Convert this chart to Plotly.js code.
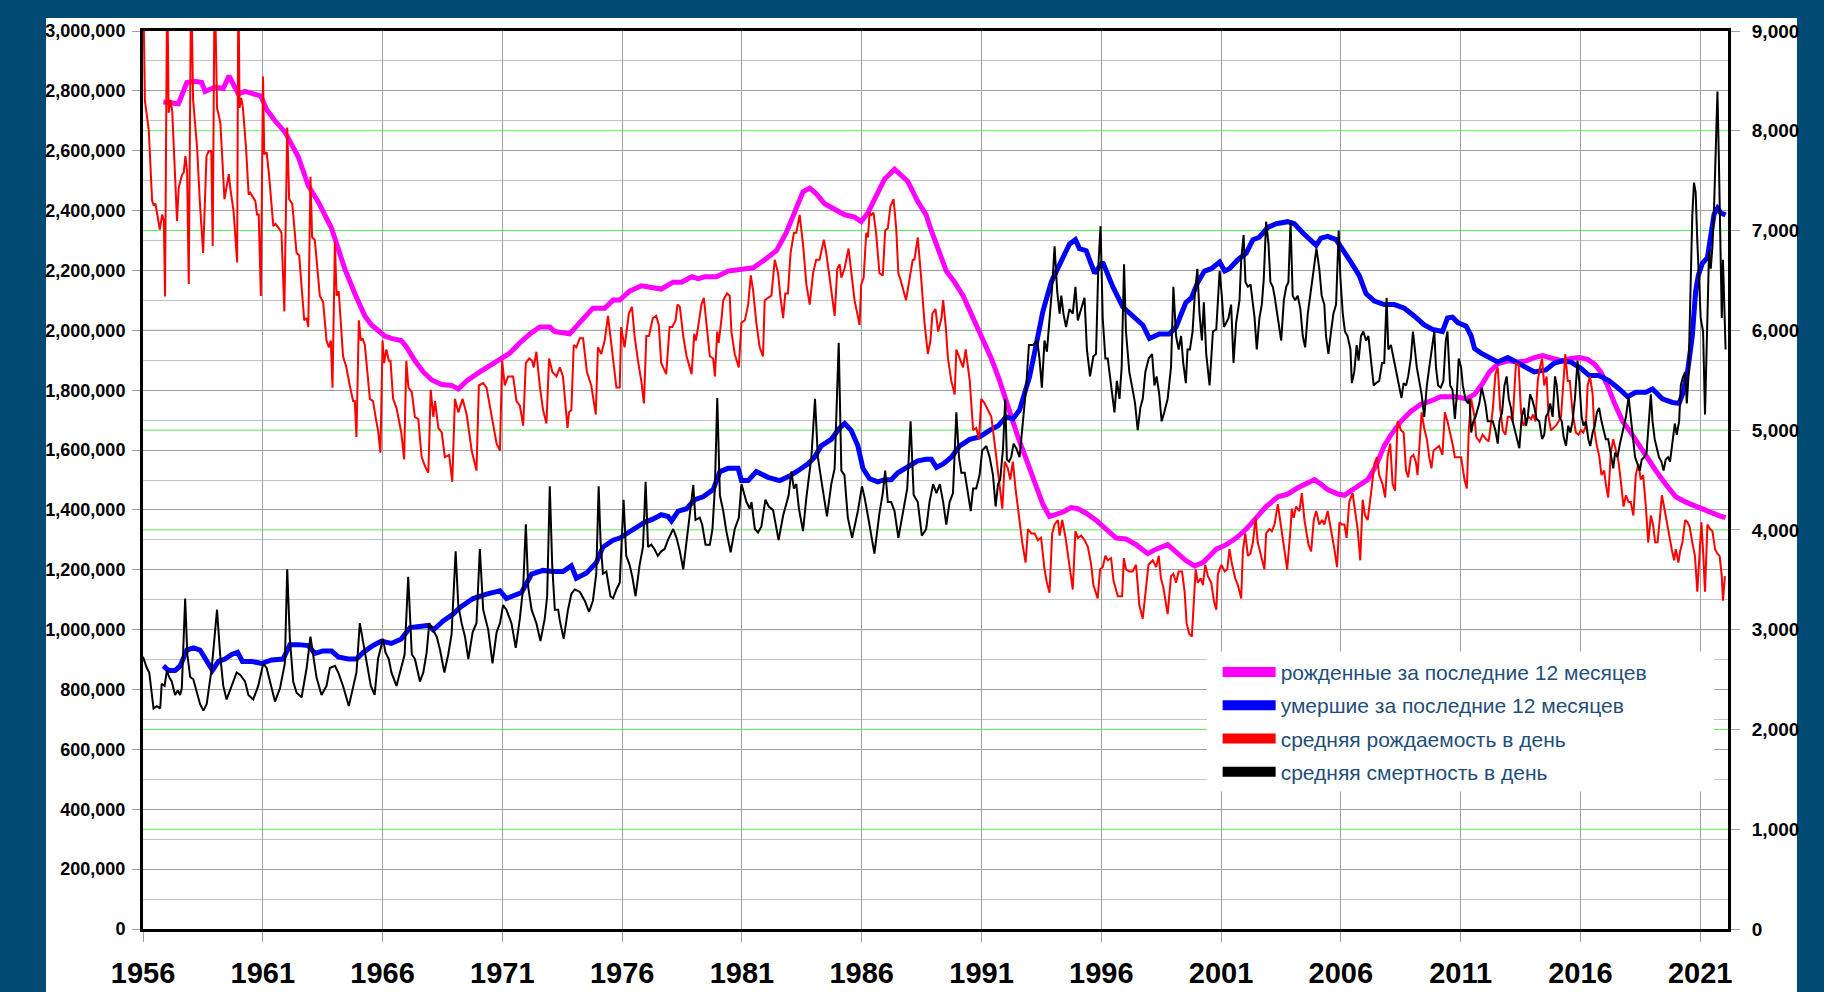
<!DOCTYPE html>
<html>
<head>
<meta charset="utf-8">
<script src="https://cdn.plot.ly/plotly-3.0.1.min.js"></script>
<style>
html,body{margin:0;padding:0;background:#004a73;}
#chart{width:1824px;height:992px;}
</style>
</head>
<body>
<div id="chart"></div>
<script>
// ---------- DATA ----------
const seriesNames = [
  "рожденные за последние 12 месяцев",
  "умершие за последние 12 месяцев",
  "средняя рождаемость в день",
  "средняя смертность в день"
];
const xTickYears = [1956,1961,1966,1971,1976,1981,1986,1991,1996,2001,2006,2011,2016,2021];
const rightGridValues = [1000,2000,3000,4000,5000,6000,7000,8000];

// births over last 12 months (left axis)
const births12mX = [1956.85,1957.48,1957.83,1958.17,1958.45,1958.59,1959.01,1959.35,1959.59,1959.98,1960.26,1960.67,1960.92,1961.16,1961.51,1961.92,1962.48,1962.90,1963.31,1963.87,1964.42,1964.84,1965.26,1965.54,1966.09,1966.37,1966.78,1967.01,1967.35,1967.70,1968.05,1968.47,1968.88,1969.16,1969.51,1970.06,1970.48,1970.96,1971.31,1971.73,1972.15,1972.56,1972.98,1973.19,1973.81,1974.23,1974.78,1975.27,1975.62,1975.90,1976.31,1976.80,1977.28,1977.63,1978.13,1978.48,1978.90,1979.17,1979.45,1979.94,1980.42,1980.98,1981.47,1981.95,1982.44,1982.85,1983.27,1983.55,1983.83,1984.10,1984.45,1984.87,1985.29,1985.70,1985.98,1986.26,1986.60,1986.95,1987.37,1987.92,1988.34,1988.69,1988.84,1989.19,1989.53,1989.88,1990.23,1990.65,1991.06,1991.41,1991.76,1992.17,1992.52,1992.87,1993.22,1993.56,1993.84,1994.12,1994.40,1994.74,1995.02,1995.37,1995.78,1996.20,1996.62,1997.03,1997.45,1997.94,1998.29,1998.77,1999.12,1999.53,1999.90,2000.24,2000.52,2000.80,2001.22,2001.63,2002.05,2002.46,2002.88,2003.37,2003.78,2004.20,2004.55,2004.90,2005.17,2005.45,2005.87,2006.15,2006.42,2006.70,2007.12,2007.46,2007.81,2008.09,2008.51,2008.92,2009.34,2009.76,2010.17,2010.45,2010.81,2011.23,2011.58,2011.92,2012.20,2012.55,2012.97,2013.38,2013.73,2014.08,2014.42,2014.84,2015.26,2015.60,2015.95,2016.30,2016.58,2016.85,2017.13,2017.41,2017.76,2018.10,2018.45,2018.80,2019.15,2019.56,2019.98,2020.40,2020.74,2021.09,2021.44,2021.78,2022.06];
const births12mY = [2763000,2757000,2828000,2832000,2828000,2798000,2813000,2808000,2850000,2790000,2798000,2787000,2783000,2738000,2700000,2663000,2580000,2483000,2430000,2341000,2206000,2123000,2048000,2018000,1981000,1973000,1966000,1943000,1898000,1861000,1834000,1819000,1816000,1804000,1831000,1861000,1883000,1909000,1924000,1958000,1988000,2011000,2011000,1996000,1988000,2026000,2074000,2074000,2101000,2101000,2131000,2149000,2143000,2138000,2161000,2161000,2179000,2173000,2179000,2179000,2198000,2206000,2209000,2236000,2266000,2326000,2415000,2463000,2475000,2457000,2423000,2403000,2386000,2378000,2363000,2393000,2445000,2505000,2538000,2498000,2430000,2386000,2348000,2273000,2198000,2161000,2116000,2041000,1973000,1906000,1831000,1726000,1644000,1569000,1494000,1419000,1378000,1384000,1393000,1408000,1404000,1389000,1366000,1336000,1306000,1303000,1284000,1254000,1269000,1284000,1261000,1231000,1213000,1224000,1246000,1269000,1284000,1306000,1336000,1374000,1411000,1444000,1453000,1474000,1489000,1501000,1486000,1468000,1453000,1449000,1464000,1479000,1501000,1546000,1614000,1651000,1696000,1729000,1753000,1764000,1778000,1778000,1778000,1771000,1786000,1823000,1861000,1888000,1898000,1894000,1898000,1909000,1916000,1906000,1898000,1906000,1909000,1903000,1888000,1861000,1816000,1759000,1696000,1659000,1614000,1576000,1531000,1486000,1444000,1426000,1414000,1404000,1393000,1381000,1374000];

// deaths over last 12 months (left axis)
const deaths12mX = [1956.85,1957.06,1957.34,1957.55,1957.83,1958.10,1958.38,1958.66,1958.90,1959.15,1959.42,1959.70,1959.95,1960.15,1960.53,1960.95,1961.37,1961.85,1962.13,1962.48,1962.90,1963.17,1963.52,1963.87,1964.15,1964.56,1964.91,1965.19,1965.54,1965.95,1966.37,1966.78,1967.15,1967.91,1968.12,1968.53,1968.95,1969.23,1969.78,1970.34,1970.90,1971.17,1971.45,1971.80,1972.22,1972.70,1973.12,1973.53,1973.88,1974.09,1974.51,1974.92,1975.20,1975.62,1975.90,1976.17,1976.52,1976.94,1977.28,1977.63,1977.92,1978.06,1978.34,1978.69,1979.03,1979.38,1979.80,1980.08,1980.42,1980.84,1980.98,1981.26,1981.60,1982.09,1982.58,1982.99,1983.34,1983.76,1984.03,1984.31,1984.73,1985.08,1985.29,1985.56,1985.84,1986.05,1986.33,1986.67,1986.95,1987.23,1987.51,1987.79,1988.06,1988.34,1988.69,1988.91,1989.12,1989.40,1989.74,1990.09,1990.51,1990.92,1991.34,1991.69,1992.03,1992.31,1992.59,1992.80,1993.01,1993.28,1993.56,1993.91,1994.26,1994.67,1994.92,1995.09,1995.37,1995.72,1996.06,1996.48,1996.90,1997.31,1997.73,1998.01,1998.42,1998.84,1999.12,1999.53,1999.76,2000.03,2000.31,2000.59,2000.94,2001.15,2001.35,2001.70,2002.05,2002.33,2002.60,2002.95,2003.30,2003.78,2004.06,2004.41,2004.69,2004.97,2005.17,2005.45,2005.80,2006.08,2006.42,2006.77,2007.05,2007.40,2007.81,2008.23,2008.65,2009.06,2009.48,2009.83,2010.24,2010.45,2010.66,2010.88,2011.23,2011.44,2011.58,2011.85,2012.20,2012.55,2012.97,2013.31,2013.73,2014.08,2014.56,2014.91,2015.26,2015.60,2016.02,2016.37,2016.78,2017.20,2017.62,2017.97,2018.31,2018.73,2019.01,2019.42,2019.84,2020.12,2020.26,2020.47,2020.67,2020.81,2020.92,2021.09,2021.30,2021.44,2021.58,2021.72,2021.85,2022.06];
const deaths12mY = [879000,864000,864000,879000,932000,939000,932000,894000,864000,894000,902000,917000,924000,894000,894000,887000,899000,902000,950000,950000,947000,921000,929000,929000,909000,902000,902000,924000,944000,962000,954000,969000,1007000,1014000,999000,1029000,1052000,1074000,1104000,1119000,1130000,1104000,1112000,1124000,1186000,1198000,1194000,1194000,1213000,1172000,1189000,1224000,1276000,1299000,1306000,1321000,1339000,1359000,1369000,1384000,1378000,1363000,1396000,1404000,1434000,1444000,1468000,1528000,1539000,1539000,1498000,1498000,1528000,1509000,1498000,1513000,1531000,1554000,1576000,1614000,1636000,1674000,1689000,1666000,1614000,1539000,1504000,1494000,1501000,1501000,1524000,1539000,1554000,1564000,1569000,1569000,1542000,1554000,1576000,1614000,1636000,1644000,1666000,1681000,1711000,1704000,1734000,1786000,1846000,1951000,2063000,2161000,2221000,2288000,2303000,2273000,2266000,2191000,2228000,2146000,2078000,2048000,2018000,1973000,1988000,1988000,2011000,2093000,2108000,2161000,2198000,2206000,2228000,2198000,2206000,2236000,2258000,2303000,2311000,2344000,2356000,2363000,2356000,2326000,2303000,2284000,2308000,2314000,2303000,2266000,2228000,2183000,2123000,2098000,2086000,2086000,2074000,2048000,2018000,2003000,1996000,2041000,2044000,2026000,2014000,1981000,1939000,1924000,1909000,1894000,1909000,1894000,1879000,1861000,1868000,1891000,1898000,1894000,1873000,1849000,1849000,1831000,1804000,1778000,1793000,1793000,1804000,1771000,1759000,1756000,1786000,1861000,1981000,2131000,2183000,2224000,2243000,2311000,2388000,2408000,2393000,2385000];

// average births per day (right axis)
const birthsDailyX = [1956.00,1956.08,1956.24,1956.38,1956.45,1956.52,1956.59,1956.70,1956.80,1956.87,1956.92,1957.01,1957.07,1957.15,1957.22,1957.42,1957.49,1957.63,1957.70,1957.77,1957.84,1957.91,1958.01,1958.09,1958.26,1958.37,1958.51,1958.65,1958.74,1958.85,1958.91,1958.99,1959.09,1959.23,1959.40,1959.58,1959.65,1959.78,1959.93,1959.98,1960.03,1960.10,1960.17,1960.30,1960.41,1960.48,1960.69,1960.76,1960.83,1960.92,1961.01,1961.06,1961.16,1961.26,1961.44,1961.53,1961.67,1961.78,1961.90,1962.02,1962.10,1962.23,1962.41,1962.52,1962.62,1962.73,1962.83,1962.90,1962.99,1963.06,1963.17,1963.38,1963.52,1963.66,1963.76,1963.84,1963.91,1964.01,1964.08,1964.17,1964.35,1964.49,1964.63,1964.77,1964.84,1964.91,1965.01,1965.09,1965.16,1965.26,1965.47,1965.60,1965.74,1965.81,1965.91,1966.00,1966.06,1966.16,1966.26,1966.33,1966.44,1966.58,1966.78,1966.90,1966.99,1967.08,1967.22,1967.35,1967.49,1967.63,1967.77,1967.91,1968.01,1968.12,1968.19,1968.33,1968.47,1968.60,1968.78,1968.91,1969.02,1969.16,1969.34,1969.51,1969.72,1969.92,1970.02,1970.20,1970.34,1970.55,1970.76,1970.90,1970.99,1971.10,1971.24,1971.45,1971.59,1971.73,1971.87,1971.98,1972.12,1972.24,1972.31,1972.42,1972.56,1972.70,1972.84,1972.95,1973.09,1973.26,1973.40,1973.53,1973.72,1973.78,1973.88,1973.98,1974.09,1974.23,1974.37,1974.53,1974.71,1974.90,1974.99,1975.13,1975.27,1975.41,1975.62,1975.76,1975.90,1975.96,1976.10,1976.28,1976.41,1976.52,1976.66,1976.80,1976.91,1977.01,1977.12,1977.28,1977.42,1977.53,1977.63,1977.84,1977.98,1978.09,1978.23,1978.31,1978.41,1978.55,1978.69,1978.90,1979.01,1979.08,1979.17,1979.31,1979.41,1979.52,1979.66,1979.80,1979.87,1979.97,1980.03,1980.15,1980.22,1980.38,1980.49,1980.56,1980.70,1980.87,1980.98,1981.12,1981.26,1981.37,1981.47,1981.60,1981.74,1981.88,1981.95,1982.09,1982.23,1982.37,1982.51,1982.60,1982.72,1982.81,1982.92,1983.03,1983.17,1983.27,1983.41,1983.55,1983.69,1983.83,1983.97,1984.10,1984.24,1984.42,1984.52,1984.66,1984.87,1984.98,1985.08,1985.15,1985.28,1985.45,1985.56,1985.70,1985.91,1985.98,1986.08,1986.19,1986.26,1986.33,1986.40,1986.49,1986.60,1986.74,1986.88,1986.98,1987.09,1987.20,1987.33,1987.44,1987.53,1987.65,1987.85,1987.99,1988.13,1988.20,1988.34,1988.48,1988.62,1988.76,1988.87,1988.95,1989.08,1989.19,1989.33,1989.40,1989.51,1989.60,1989.74,1989.88,1989.95,1990.09,1990.23,1990.34,1990.44,1990.51,1990.65,1990.78,1990.90,1990.99,1991.13,1991.27,1991.41,1991.55,1991.69,1991.76,1991.87,1991.97,1992.10,1992.20,1992.31,1992.42,1992.56,1992.70,1992.84,1992.94,1993.08,1993.22,1993.35,1993.49,1993.63,1993.73,1993.84,1993.95,1994.05,1994.19,1994.26,1994.37,1994.51,1994.67,1994.81,1994.92,1995.02,1995.16,1995.30,1995.44,1995.58,1995.67,1995.85,1995.95,1996.06,1996.17,1996.27,1996.41,1996.51,1996.69,1996.87,1996.94,1997.03,1997.17,1997.31,1997.45,1997.59,1997.73,1997.87,1997.97,1998.15,1998.29,1998.40,1998.49,1998.59,1998.77,1998.91,1999.01,1999.12,1999.23,1999.37,1999.48,1999.56,1999.67,1999.78,1999.94,2000.03,2000.15,2000.24,2000.34,2000.45,2000.59,2000.70,2000.80,2000.87,2001.01,2001.15,2001.26,2001.35,2001.46,2001.59,2001.70,2001.84,2001.91,2002.01,2002.12,2002.22,2002.33,2002.44,2002.53,2002.67,2002.81,2002.88,2003.02,2003.12,2003.23,2003.37,2003.51,2003.65,2003.76,2003.90,2003.95,2004.03,2004.13,2004.27,2004.37,2004.48,2004.65,2004.76,2004.87,2004.97,2005.10,2005.22,2005.31,2005.45,2005.59,2005.73,2005.84,2005.94,2006.03,2006.15,2006.24,2006.35,2006.49,2006.59,2006.70,2006.81,2006.91,2007.01,2007.12,2007.26,2007.40,2007.51,2007.60,2007.74,2007.85,2007.95,2008.06,2008.16,2008.26,2008.37,2008.51,2008.62,2008.72,2008.81,2008.92,2009.03,2009.13,2009.20,2009.27,2009.37,2009.48,2009.59,2009.69,2009.78,2009.87,2009.97,2010.10,2010.24,2010.34,2010.45,2010.52,2010.66,2010.76,2010.88,2011.02,2011.16,2011.26,2011.34,2011.44,2011.58,2011.65,2011.79,2011.92,2012.06,2012.17,2012.34,2012.45,2012.55,2012.65,2012.76,2012.87,2012.97,2013.08,2013.17,2013.31,2013.42,2013.52,2013.62,2013.73,2013.84,2013.94,2014.03,2014.12,2014.22,2014.31,2014.40,2014.49,2014.59,2014.67,2014.77,2014.87,2014.98,2015.09,2015.19,2015.28,2015.37,2015.47,2015.56,2015.67,2015.81,2015.92,2016.02,2016.12,2016.23,2016.30,2016.40,2016.51,2016.58,2016.67,2016.79,2016.88,2016.99,2017.06,2017.16,2017.27,2017.37,2017.48,2017.59,2017.69,2017.80,2017.90,2018.01,2018.10,2018.21,2018.31,2018.42,2018.52,2018.62,2018.73,2018.83,2018.94,2019.03,2019.12,2019.22,2019.31,2019.40,2019.49,2019.59,2019.70,2019.81,2019.91,2019.98,2020.09,2020.16,2020.26,2020.37,2020.47,2020.56,2020.67,2020.78,2020.88,2020.95,2021.05,2021.13,2021.20,2021.30,2021.41,2021.51,2021.62,2021.72,2021.81,2021.90,2021.95,2022.03];
const birthsDailyY = [9600,8300,8010,7300,7250,7270,7170,7010,7160,7100,6340,9600,8180,8310,8195,7095,7430,7560,7580,7745,7595,6465,9600,8315,7825,7295,6775,7745,7795,7795,6845,9600,8230,8080,7315,7565,7415,7195,6680,9600,8230,8330,8230,7830,7360,7380,7295,7160,7160,6345,8545,7764,7786,7561,7044,7067,7022,6977,6190,8033,7314,7269,6775,6752,6437,6100,6123,6033,7539,6932,6909,6347,6280,5898,5830,5898,5426,6887,6347,6392,5740,5628,5448,5291,5291,4931,6100,5898,5920,5853,5313,5291,5088,4999,4774,5898,5673,5808,5696,5696,5313,5223,4976,4706,5696,5426,5381,5133,5111,4729,4639,4572,5403,5133,5291,5021,4976,4729,4751,4482,5313,5178,5313,5156,4796,4594,5448,5471,5426,5156,4864,4796,5696,5448,5538,5538,5291,5246,5044,5673,5718,5696,5628,5785,5448,5201,5066,5718,5583,5538,5628,5538,5021,5178,5201,5853,5830,5920,5920,5583,5448,5156,5830,5763,5898,6145,5718,5426,5426,6033,5830,6168,6235,5943,5696,5493,5268,5943,5943,6123,6145,6055,5673,5561,6033,6033,6100,6258,6235,5943,5740,5561,5965,5898,6033,6258,6325,6033,5740,5718,5538,5988,5875,6123,6302,6370,6347,5988,5763,5628,6078,6100,6258,6550,6392,6078,5830,5740,6302,6325,6347,6707,6572,6347,6123,6370,6370,6775,6977,6977,7157,6864,6460,6258,6572,6707,6707,6909,6775,6527,6145,6617,6662,6527,6617,6820,6617,6302,6055,6460,6527,6977,6932,7179,7157,7179,6977,6572,6550,7000,7022,7247,7314,7022,6572,6482,6302,6527,6707,6707,6932,6527,6078,5763,5898,6168,6213,5988,6123,6302,6033,5718,5493,5358,5808,5718,5628,5808,5628,5493,4999,5021,4909,5313,5268,5201,5133,4864,4594,4414,4212,4684,4616,4504,4684,4414,4144,3875,3672,4009,3965,3965,3897,3920,3605,3470,3371,3965,4054,4099,3942,4099,3920,3650,3402,3987,3920,3942,3897,3830,3650,3447,3313,3605,3627,3740,3695,3717,3492,3335,3335,3717,3605,3583,3583,3650,3245,3110,3402,3650,3695,3627,3740,3515,3425,3155,3537,3560,3470,3583,3583,3380,3065,2960,2930,3605,3470,3515,3447,3650,3537,3470,3290,3200,3560,3650,3583,3605,3807,3650,3515,3447,3313,3785,3965,3740,3762,3875,4122,3875,3740,3605,3965,4009,3987,4054,4257,4009,3785,3605,4009,4212,4122,4234,4189,4369,4099,3852,3785,4099,4189,4054,4099,4054,4189,4009,3807,3627,4077,4054,4054,3920,4279,4369,4189,4009,3695,4302,4144,4099,4369,4662,4729,4549,4459,4324,4729,4864,4459,4392,5088,4999,4976,4594,4527,4729,4751,4684,4549,4774,5178,5021,4909,4729,4616,4796,4819,4841,4751,5178,5088,5021,4864,4729,4729,4729,4504,4414,4999,5313,5133,4931,4886,4954,4909,4886,5201,5561,5628,5223,4999,4954,5133,5133,5088,5673,5651,5178,5044,5088,5133,5111,5156,5088,5493,5628,5718,5448,5538,5133,4999,5021,5044,5088,5133,5448,5763,5493,5493,5178,4976,4954,4999,4976,5044,5448,5538,5358,4999,4864,4729,4549,4594,4459,4324,4774,4909,4796,4684,4482,4234,4347,4279,4279,4144,4549,4661,4504,4549,4234,3875,4144,4054,3875,3875,4099,4347,4234,4099,3920,3807,3695,3807,3672,3785,3875,4099,4077,4032,3875,3740,3380,3650,4077,3740,3380,4054,4009,3987,3807,3762,3740,3537,3290,3537];

// average deaths per day (right axis)
const deathsDailyX = [1956.00,1956.16,1956.26,1956.44,1956.58,1956.72,1956.78,1956.90,1957.00,1957.09,1957.20,1957.34,1957.45,1957.55,1957.62,1957.76,1957.85,1957.97,1958.10,1958.24,1958.38,1958.52,1958.66,1958.87,1959.09,1959.22,1959.35,1959.49,1959.70,1959.91,1960.05,1960.26,1960.40,1960.60,1960.81,1961.02,1961.16,1961.30,1961.51,1961.72,1961.92,1962.02,1962.13,1962.27,1962.41,1962.62,1962.83,1962.99,1963.10,1963.24,1963.45,1963.66,1963.80,1964.01,1964.15,1964.35,1964.59,1964.77,1964.91,1965.05,1965.19,1965.33,1965.51,1965.67,1965.81,1966.02,1966.12,1966.26,1966.37,1966.58,1966.78,1966.92,1967.07,1967.22,1967.35,1967.56,1967.70,1967.84,1967.95,1968.12,1968.26,1968.40,1968.58,1968.74,1968.88,1969.05,1969.16,1969.30,1969.44,1969.58,1969.76,1969.92,1970.06,1970.20,1970.41,1970.59,1970.76,1970.90,1971.03,1971.17,1971.38,1971.56,1971.73,1971.87,1971.98,1972.08,1972.22,1972.42,1972.59,1972.77,1972.87,1972.98,1973.08,1973.19,1973.33,1973.40,1973.56,1973.74,1973.88,1974.02,1974.23,1974.44,1974.62,1974.78,1974.92,1975.02,1975.10,1975.20,1975.34,1975.51,1975.62,1975.76,1975.90,1976.06,1976.17,1976.31,1976.42,1976.56,1976.73,1976.87,1976.98,1977.08,1977.22,1977.35,1977.49,1977.63,1977.77,1977.91,1978.13,1978.27,1978.41,1978.55,1978.69,1978.79,1978.97,1979.06,1979.24,1979.34,1979.48,1979.66,1979.77,1979.87,1979.97,1980.08,1980.22,1980.35,1980.53,1980.70,1980.87,1980.98,1981.09,1981.19,1981.33,1981.40,1981.54,1981.67,1981.81,1981.98,1982.12,1982.30,1982.53,1982.72,1982.95,1983.06,1983.17,1983.27,1983.38,1983.55,1983.69,1983.90,1984.05,1984.17,1984.31,1984.42,1984.55,1984.73,1984.87,1985.04,1985.15,1985.28,1985.42,1985.60,1985.84,1986.01,1986.12,1986.29,1986.53,1986.74,1986.88,1986.98,1987.09,1987.23,1987.37,1987.53,1987.72,1987.90,1988.04,1988.17,1988.34,1988.51,1988.69,1988.83,1988.98,1989.12,1989.26,1989.40,1989.53,1989.67,1989.81,1989.95,1990.06,1990.16,1990.30,1990.44,1990.55,1990.65,1990.78,1990.92,1991.03,1991.20,1991.34,1991.48,1991.59,1991.69,1991.78,1991.90,1991.99,1992.06,1992.15,1992.24,1992.34,1992.45,1992.59,1992.73,1992.87,1992.98,1993.15,1993.33,1993.42,1993.52,1993.63,1993.73,1993.84,1993.95,1994.05,1994.16,1994.26,1994.33,1994.42,1994.53,1994.67,1994.81,1994.92,1995.02,1995.16,1995.30,1995.40,1995.53,1995.67,1995.78,1995.88,1995.97,1996.06,1996.17,1996.27,1996.37,1996.48,1996.55,1996.65,1996.76,1996.85,1996.95,1997.03,1997.17,1997.31,1997.41,1997.52,1997.63,1997.73,1997.84,1997.98,1998.12,1998.22,1998.31,1998.42,1998.52,1998.63,1998.77,1998.91,1999.01,1999.12,1999.23,1999.33,1999.42,1999.53,1999.60,1999.70,1999.81,1999.90,2000.01,2000.10,2000.20,2000.28,2000.38,2000.52,2000.66,2000.80,2000.94,2001.03,2001.12,2001.22,2001.31,2001.42,2001.52,2001.63,2001.77,2001.84,2001.94,2002.02,2002.12,2002.23,2002.33,2002.40,2002.49,2002.60,2002.70,2002.78,2002.88,2002.98,2003.06,2003.16,2003.23,2003.37,2003.51,2003.62,2003.72,2003.81,2003.90,2003.99,2004.09,2004.20,2004.31,2004.41,2004.51,2004.62,2004.73,2004.87,2004.98,2005.10,2005.20,2005.31,2005.38,2005.48,2005.59,2005.69,2005.80,2005.91,2005.98,2006.08,2006.17,2006.28,2006.40,2006.46,2006.56,2006.66,2006.74,2006.84,2006.94,2007.05,2007.15,2007.26,2007.37,2007.47,2007.60,2007.72,2007.81,2007.91,2007.98,2008.09,2008.20,2008.30,2008.44,2008.53,2008.62,2008.72,2008.81,2008.92,2009.01,2009.09,2009.17,2009.27,2009.37,2009.48,2009.59,2009.69,2009.79,2009.90,2009.97,2010.06,2010.17,2010.28,2010.38,2010.45,2010.56,2010.66,2010.76,2010.84,2010.92,2011.02,2011.09,2011.20,2011.30,2011.37,2011.44,2011.53,2011.62,2011.72,2011.78,2011.88,2011.95,2012.03,2012.13,2012.23,2012.34,2012.45,2012.55,2012.62,2012.73,2012.83,2012.92,2013.01,2013.10,2013.17,2013.27,2013.35,2013.45,2013.55,2013.65,2013.73,2013.80,2013.90,2013.98,2014.08,2014.17,2014.28,2014.40,2014.49,2014.56,2014.66,2014.74,2014.84,2014.94,2015.01,2015.12,2015.22,2015.30,2015.40,2015.49,2015.58,2015.67,2015.77,2015.88,2015.95,2016.05,2016.13,2016.23,2016.33,2016.41,2016.51,2016.60,2016.69,2016.78,2016.88,2016.97,2017.06,2017.16,2017.27,2017.37,2017.45,2017.55,2017.65,2017.76,2017.90,2018.01,2018.10,2018.20,2018.28,2018.38,2018.48,2018.56,2018.66,2018.76,2018.87,2018.94,2019.01,2019.10,2019.19,2019.28,2019.38,2019.47,2019.56,2019.66,2019.74,2019.84,2019.94,2020.02,2020.12,2020.19,2020.26,2020.37,2020.44,2020.51,2020.60,2020.67,2020.74,2020.81,2020.88,2020.95,2021.02,2021.12,2021.20,2021.30,2021.37,2021.44,2021.51,2021.58,2021.65,2021.72,2021.78,2021.85,2021.90,2021.95,2022.01,2022.06];
const deathsDailyY = [2728,2616,2571,2211,2234,2211,2458,2436,2593,2526,2481,2346,2391,2346,2414,3313,2751,2526,2503,2391,2256,2189,2256,2616,3200,2751,2436,2301,2436,2571,2548,2481,2346,2301,2436,2661,2616,2481,2279,2414,2661,3605,2908,2481,2368,2323,2616,2930,2751,2526,2346,2436,2616,2638,2571,2436,2234,2414,2571,3065,2863,2661,2436,2346,2706,2908,2773,2706,2571,2436,2616,2751,3530,2751,2706,2481,2571,2773,3065,2998,2930,2796,2571,2751,2953,3785,3245,3065,2930,2706,2975,3065,3807,3200,2998,2661,2975,3065,3245,3200,3065,2818,3110,3425,4055,3425,3200,3065,2886,3110,3335,4437,3650,3200,3200,3088,2908,3200,3358,3403,3380,3290,3178,3290,3560,4437,3875,3560,3583,3335,3313,3403,3470,4302,3740,3650,3537,3335,3650,3830,4482,3830,3852,3807,3740,3785,3807,3897,4009,3920,3785,3605,3875,4099,4450,4099,4122,4054,3852,3852,4009,4414,5322,4347,4189,3987,3776,4009,4122,4459,4369,4279,4212,4279,4009,3974,4032,4302,4234,4198,3897,4144,4347,4585,4414,4459,4212,3987,4324,4729,5313,4729,4504,4333,4135,4459,4616,5875,4594,4549,4122,3920,4189,4437,4324,4099,3762,4167,4369,4594,4279,4279,4189,3920,4167,4414,5089,4347,4279,3942,4009,4279,4459,4369,4459,4279,4054,4279,4369,5178,4729,4572,4572,4369,4189,4414,4414,4549,4796,4841,4729,4549,4234,4459,4504,4819,5313,4706,4684,4729,4864,4819,4729,5088,5448,5853,5853,5898,5718,5426,5898,5785,6123,6437,6842,6392,6168,6347,6168,6033,6213,6168,6437,6100,6213,6325,5808,5538,5740,5763,6662,7044,6123,5718,5718,5538,5358,5178,5493,5313,5628,6662,5988,5583,5403,5268,4999,5223,5313,5583,5718,5763,5448,5538,5358,5088,5178,5313,5628,6437,5943,5808,5943,5673,5471,5808,5808,5988,6347,6617,6168,5898,6280,5763,5448,5988,6010,6595,6347,6033,6078,6123,6258,5673,6078,6302,6707,6955,6482,6437,6460,6258,6123,5808,6123,6258,6505,7089,6864,6482,6437,6347,6123,5898,6302,6437,6482,7089,6347,6302,6347,6213,5943,5830,6168,6347,6617,6820,6617,6347,6258,5943,5763,5988,6168,6258,7000,6527,6168,5988,5943,5808,5471,5583,5853,5696,5943,5988,5898,5943,5718,5448,5471,5493,5673,5673,6325,5808,5853,5718,5583,5448,5322,5471,5448,5538,5718,5988,5808,5628,5493,5358,5133,5448,5628,5808,5988,5628,5448,5426,5493,5898,5988,5448,5403,5111,5358,5718,5628,5448,5313,5268,5313,4976,5088,5133,5223,5268,5426,5358,5268,5088,5088,5088,4999,4864,5088,5178,5448,5538,5313,5223,5088,4999,4909,4819,5133,5223,5044,5133,5358,5313,5223,5111,5088,4909,4954,5133,5178,5268,5133,5538,5448,5133,5088,4931,4841,5044,4976,5088,5313,5696,5493,5133,5044,5088,4909,4841,4976,5044,5178,5223,5088,4999,4909,4909,4729,4616,4774,4729,4864,4999,5133,5336,5133,4954,4729,4661,4594,4706,4729,4774,5088,5358,5088,4909,4819,4729,4684,4594,4706,4729,4684,4864,5066,4954,5088,5448,5516,5583,5268,5538,6347,7157,7480,7381,6887,6527,6123,5988,5156,6123,6797,6617,6842,7247,7831,8393,7696,6527,6123,6707,6123,5808];

// ---------- CHART ----------
const TICKFONT = '"Liberation Sans",Arial,sans-serif';
const LEGFONT = '"Liberation Sans",Arial,sans-serif';
const colors = ['#ff00ff','#0000ff','#ff0000','#000000'];

const traces = [
  {x: births12mX, y: births12mY, yaxis:'y', mode:'lines', line:{color:colors[0], width:5}, showlegend:false, name:seriesNames[0]},
  {x: deaths12mX, y: deaths12mY, yaxis:'y', mode:'lines', line:{color:colors[1], width:5}, showlegend:false, name:seriesNames[1]},
  {x: birthsDailyX, y: birthsDailyY, yaxis:'y2', mode:'lines', line:{color:colors[2], width:2}, showlegend:false, name:seriesNames[2]},
  {x: deathsDailyX, y: deathsDailyY, yaxis:'y2', mode:'lines', line:{color:colors[3], width:2}, showlegend:false, name:seriesNames[3]}
];
// legend entries
seriesNames.forEach((n,i)=>{
  traces.push({x:[null], y:[null], mode:'lines', line:{color:colors[i], width:10}, name:n, showlegend:true, legendgroup:'g'+i, hoverinfo:'skip'});
});

const shapes = [
  // white panel
  {type:'rect', xref:'paper', yref:'paper', x0:-0.0612, x1:1.0435, y0:-0.09, y1:1.0145, fillcolor:'#ffffff', line:{width:0}, layer:'below'},
  // legend box
  {type:'rect', xref:'paper', yref:'paper', x0:0.6713, x1:0.9912, y0:0.153, y1:0.309, fillcolor:'#ffffff', line:{width:0}, layer:'above'}
];
rightGridValues.forEach(v=>{
  shapes.push({type:'line', xref:'paper', yref:'y2', x0:0, x1:1, y0:v, y1:v, line:{color:'#55ee55', width:1}, layer:'below'});
});

const layout = {
  width:1824, height:992,
  paper_bgcolor:'#004a73', plot_bgcolor:'rgba(0,0,0,0)',
  margin:{l:143, r:96, t:31, b:63, pad:0},
  showlegend:true,
  legend:{x:0.678, xanchor:'left', y:0.3087, yanchor:'top', bgcolor:'rgba(0,0,0,0)', borderwidth:0,
          font:{family:LEGFONT, size:21, color:'#1f4e79'}, traceorder:'grouped', tracegroupgap:3, itemwidth:53},
  xaxis:{range:[1956, 2022.16], tickmode:'array', tickvals:xTickYears, ticktext:xTickYears.map(String),
         showgrid:true, gridcolor:'#a0a0a0', gridwidth:1, zeroline:false,
         ticks:'outside', ticklen:10, tickcolor:'#a0a0a0', tickwidth:1,
         showline:true, linecolor:'#000000', linewidth:3, mirror:true,
         tickfont:{family:TICKFONT, size:29, color:'#000000', weight:'bold'}, ticklabelstandoff:6},
  yaxis:{range:[0,3000000], dtick:200000, tick0:0, tickformat:',', showgrid:true, gridcolor:'#a0a0a0', gridwidth:1,
         minor:{dtick:100000, showgrid:true, gridcolor:'#c4c4c4', ticks:''},
         zeroline:false, ticks:'outside', ticklen:8, tickcolor:'#a0a0a0',
         showline:true, linecolor:'#000000', linewidth:3,
         tickfont:{family:TICKFONT, size:18, color:'#000000', weight:'bold'}, ticklabelstandoff:3},
  yaxis2:{range:[0,9000], dtick:1000, tick0:0, tickformat:',', overlaying:'y', side:'right', showgrid:false,
          zeroline:false, ticks:'outside', ticklen:9, tickcolor:'#a0a0a0',
          showline:true, linecolor:'#000000', linewidth:3,
          tickfont:{family:TICKFONT, size:19, color:'#000000', weight:'bold'}, ticklabelstandoff:8},
  shapes:shapes
};

Plotly.newPlot('chart', traces, layout, {displayModeBar:false, staticPlot:true});
</script>
</body>
</html>
